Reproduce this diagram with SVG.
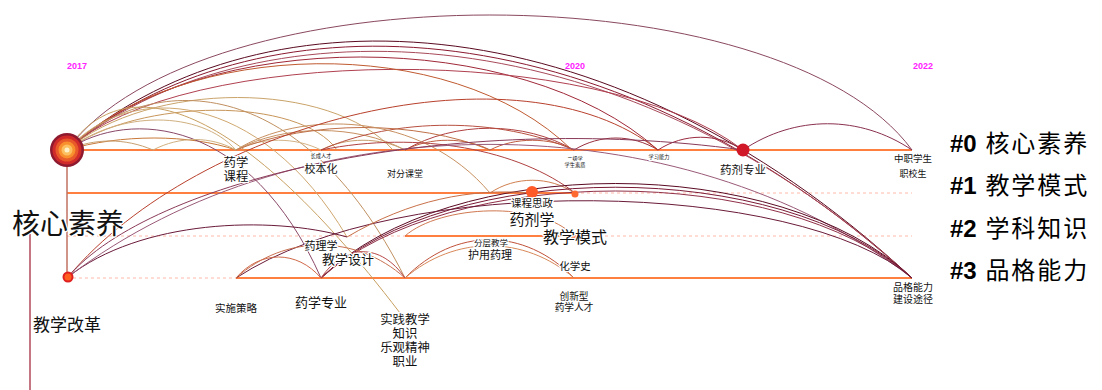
<svg xmlns="http://www.w3.org/2000/svg" width="1102" height="390" viewBox="0 0 1102 390">
<style>
.row{stroke:#ff7f40;stroke-width:2;fill:none}
.dash{stroke:#ffb8a8;stroke-width:1;stroke-dasharray:3,3;fill:none}
.c{fill:none;stroke-width:1}
.yr{font-family:"Liberation Sans",Arial,sans-serif;font-weight:bold;font-size:9px;fill:#ff22ff}
.lbl{font-family:"Liberation Sans","Noto Sans CJK SC",sans-serif;fill:#111;stroke:#fff;stroke-width:2.5;stroke-linejoin:round;paint-order:stroke;text-anchor:middle}
.leg{font-family:"Liberation Sans","Noto Sans CJK SC",sans-serif;font-size:24px;fill:#000;letter-spacing:2px}
.legn{font-weight:bold;letter-spacing:0}
.legc{font-family:"Noto Sans CJK SC",sans-serif}
</style>
<rect width="1102" height="390" fill="#fff"/>
<g id="years">
<text class="yr" x="67" y="69">2017</text>
<text class="yr" x="565" y="69">2020</text>
<text class="yr" x="913" y="69">2022</text>
</g>
<g id="timelines">
<line class="row" x1="67" y1="150" x2="912" y2="150"/>
<line class="row" x1="67" y1="193" x2="575" y2="193"/>
<line class="dash" x1="575" y1="193" x2="912" y2="193"/>
<line class="dash" x1="67" y1="236" x2="405" y2="236"/>
<line class="row" x1="405" y1="236" x2="575" y2="236"/>
<line class="dash" x1="575" y1="236" x2="912" y2="236"/>
<line class="dash" x1="67" y1="278" x2="236" y2="278"/>
<line class="row" x1="236" y1="278" x2="912" y2="278"/>
<line x1="67" y1="150" x2="67" y2="277" stroke="#c07060" stroke-width="1.5"/>
<line x1="30" y1="234" x2="30" y2="390" stroke="#b04858" stroke-width="1.5"/>
</g>
<g id="connectors">
<path class="c" stroke="#8a4860" stroke-width="1.3" d="M67,150 C200,-30 780,-30 912,150"/>
<path class="c" stroke="#5a0a20" stroke-width="1.6" d="M67,150 C250,-12 600,-12 912,278"/>
<path class="c" stroke="#8a1a30" d="M67,150 C250,-5 600,-5 912,278"/>
<path class="c" stroke="#a84a5a" d="M67,150 C245,2 612,2 912,278"/>
<path class="c" stroke="#a02838" d="M67,150 C200,26 520,26 658,150"/>
<path class="c" stroke="#b04050" d="M67,150 C180,45 600,40 743,150"/>
<path class="c" stroke="#c05a30" d="M67,150 C180,40 450,30 572,150"/>
<path class="c" stroke="#caa46a" d="M67,150 C150,80 330,80 393,150"/>
<path class="c" stroke="#c8965a" d="M67,150 C140,97 300,97 337,150"/>
<path class="c" stroke="#d0b080" d="M67,150 C120,110 200,110 236,150"/>
<path class="c" stroke="#c87838" d="M67,150 C120,134 190,134 236,150"/>
<path class="c" stroke="#c8a070" d="M67,150 C95,138 125,138 153,150"/>
<path class="c" stroke="#8a4868" d="M67,150 C130,108 250,118 321,278"/>
<path class="c" stroke="#c8a060" d="M67,150 C120,70 230,90 400,313"/>
<path class="c" stroke="#d0a870" d="M67,150 C130,80 260,90 347,237"/>
<path class="c" stroke="#c09060" d="M67,150 C150,70 300,70 405,278"/>
<path class="c" stroke="#d0b080" d="M153,150 C180,136 210,136 236,150"/>
<path class="c" stroke="#d4b488" d="M236,150 C262,137 295,137 321,150"/>
<path class="c" stroke="#c89060" d="M236,150 C285,124 356,124 405,150"/>
<path class="c" stroke="#c8a070" d="M321,150 C346,137 380,137 405,150"/>
<path class="c" stroke="#c06040" d="M405,150 C430,137 465,137 490,150"/>
<path class="c" stroke="#b04040" d="M405,150 C455,121 524,121 574,150"/>
<path class="c" stroke="#c05a40" d="M490,150 C515,137 550,137 574,150"/>
<path class="c" stroke="#9a3040" d="M574,150 C600,134 632,134 658,150"/>
<path class="c" stroke="#9a2a40" d="M658,150 C684,133 717,133 743,150"/>
<path class="c" stroke="#8a3050" d="M743,150 C795,115 860,115 912,150"/>
<path class="c" stroke="#b85040" d="M321,150 C395,117 500,117 574,150"/>
<path class="c" stroke="#c07048" d="M236,150 C310,120 416,120 490,150"/>
<path class="c" stroke="#c89060" d="M236,150 C300,110 420,110 490,193"/>
<path class="c" stroke="#d08050" d="M490,193 C515,176 550,176 574,193"/>
<path class="c" stroke="#b04040" d="M321,150 C420,130 520,150 575,193"/>
<path class="c" stroke="#b8402c" stroke-width="1.6" d="M68,277 C200,120 520,40 658,150"/>
<path class="c" stroke="#6a1a3a" d="M68,277 C140,220 270,215 347,237"/>
<path class="c" stroke="#9a5a78" d="M68,277 C300,100 680,100 912,278"/>
<path class="c" stroke="#8a3a58" d="M68,277 C150,180 450,110 743,150"/>
<path class="c" stroke="#5a0a22" stroke-width="1.3" d="M321,278 C450,152 780,152 912,278"/>
<path class="c" stroke="#7a1a36" d="M321,278 C450,157 780,157 912,278"/>
<path class="c" stroke="#903048" d="M321,278 C450,162 780,162 912,278"/>
<path class="c" stroke="#6a1a38" d="M236,278 C400,170 800,180 912,278"/>
<path class="c" stroke="#d06848" d="M236,278 C260,250 297,250 321,278"/>
<path class="c" stroke="#c87050" d="M236,278 C285,234 356,234 405,278"/>
<path class="c" stroke="#b84848" d="M321,278 C345,243 381,243 405,278"/>
<path class="c" stroke="#c05038" d="M405,278 C455,227 524,227 574,278"/>
<path class="c" stroke="#d88858" d="M405,278 C455,235 524,235 574,278"/>
<path class="c" stroke="#c87048" d="M347,237 C410,200 470,188 532,193"/>
<path class="c" stroke="#d07850" d="M405,236 C440,205 540,200 574,236"/>
</g>
<g id="node-hexin">
<circle cx="67" cy="150" r="17" fill="#8e1a30"/>
<circle cx="67" cy="150" r="14.5" fill="#d02a2a"/>
<circle cx="67" cy="150" r="11.5" fill="#e85a2a"/>
<circle cx="67" cy="150" r="8.5" fill="#f8902e"/>
<circle cx="67" cy="150" r="5.5" fill="#fcc060"/>
<circle cx="67" cy="150" r="2.5" fill="#fff0c8"/>
</g>
<g id="node-gaige">
<circle cx="68" cy="277" r="5.5" fill="#e02020"/>
<circle cx="68" cy="277" r="3.5" fill="#ff6020"/>
</g>
<g id="node-yaoji">
<circle cx="743" cy="150" r="6.5" fill="#d01828"/>
</g>
<g id="node-sizheng">
<circle cx="532" cy="192" r="6" fill="#ff5a28"/>
<circle cx="575" cy="194" r="3.5" fill="#ff6a30"/>
<circle cx="574" cy="236" r="3.5" fill="#ff7040"/>
</g>
<g id="labels">
<text class="lbl" x="12" y="234" font-size="28" stroke-width="3" style="text-anchor:start">核心素养</text>
<text class="lbl" x="67" y="331" font-size="17">教学改革</text>
<text class="lbl" x="236" y="167" font-size="12.4">药学<tspan x="236" dy="14">课程</tspan></text>
<text class="lbl" x="321" y="158" font-size="5.2" stroke-width="1">长成人才</text>
<text class="lbl" x="321" y="173" font-size="11">校本化</text>
<text class="lbl" x="405" y="177" font-size="9">对分课堂</text>
<text class="lbl" x="575" y="161" font-size="5.2" stroke-width="1">二级学<tspan x="575" dy="6">学生素质</tspan></text>
<text class="lbl" x="659" y="159" font-size="5.2" stroke-width="1">学习能力</text>
<text class="lbl" x="743" y="174" font-size="11.5">药剂专业</text>
<text class="lbl" x="913" y="162" font-size="9.5">中职学生</text>
<text class="lbl" x="913" y="177" font-size="9">职校生</text>
<text class="lbl" x="532" y="207" font-size="10.5">课程思政</text>
<text class="lbl" x="532" y="225" font-size="15">药剂学</text>
<text class="lbl" x="575" y="243" font-size="16">教学模式</text>
<text class="lbl" x="491" y="246" font-size="8.5">分层教学</text>
<text class="lbl" x="490" y="259" font-size="11">护用药理</text>
<text class="lbl" x="575" y="270" font-size="10.5">化学史</text>
<text class="lbl" x="321" y="250" font-size="11">药理学</text>
<text class="lbl" x="348" y="264" font-size="13">教学设计</text>
<text class="lbl" x="236" y="312" font-size="10.5">实施策略</text>
<text class="lbl" x="321" y="307" font-size="13">药学专业</text>
<text class="lbl" x="405" y="324" font-size="12.4" stroke-width="2">实践教学<tspan x="405" dy="14">知识</tspan><tspan x="405" dy="14">乐观精神</tspan><tspan x="405" dy="14">职业</tspan></text>
<text class="lbl" x="574" y="300" font-size="9.7">创新型<tspan x="574" dy="11">药学人才</tspan></text>
<text class="lbl" x="913" y="291" font-size="10">品格能力<tspan x="913" dy="12">建设途径</tspan></text>
</g>
<g id="legend">
<text class="leg" x="950" y="152"><tspan class="legn">#0</tspan> <tspan class="legc">核心素养</tspan></text>
<text class="leg" x="950" y="194"><tspan class="legn">#1</tspan> <tspan class="legc">教学模式</tspan></text>
<text class="leg" x="950" y="237"><tspan class="legn">#2</tspan> <tspan class="legc">学科知识</tspan></text>
<text class="leg" x="950" y="279"><tspan class="legn">#3</tspan> <tspan class="legc">品格能力</tspan></text>
</g>
</svg>
